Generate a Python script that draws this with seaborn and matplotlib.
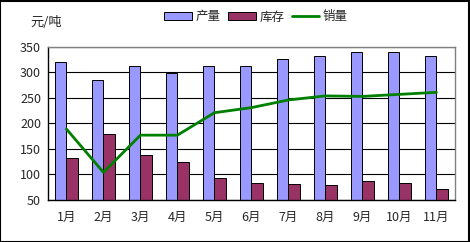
import matplotlib
matplotlib.use("Agg")
import matplotlib.pyplot as plt
import seaborn as sns
import pandas as pd
import numpy as np
from matplotlib.lines import Line2D
from matplotlib.patches import Patch

months = ["1月", "2月", "3月", "4月", "5月", "6月", "7月", "8月", "9月", "10月", "11月"]
production = [320, 285, 312, 299, 313, 312, 326, 333, 340, 341, 333]
inventory = [132, 180, 138, 124, 93, 84, 81, 79, 87, 84, 72]
sales = [189, 104, 177, 177, 221, 231, 246, 254, 253, 257, 261]
series_names = ["产量", "库存", "销量"]
yticks = [50, 100, 150, 200, 250, 300, 350]

sns.set_style("white")
plt.rcParams['font.family'] = ['Noto Sans CJK SC', 'DejaVu Sans']

df = pd.DataFrame({
    "month": months * 2,
    "value": production + inventory,
    "series": [series_names[0]] * len(months) + [series_names[1]] * len(months),
})

fig = plt.figure(figsize=(4.7, 2.42), dpi=100)
ax = fig.add_axes([0.102, 0.174, 0.866, 0.632])

sns.barplot(data=df, x="month", y="value", hue="series", order=months,
            hue_order=series_names[:2], palette=["#9999FF", "#993366"],
            width=0.6, edgecolor="black", linewidth=0.7, ax=ax, legend=False,
            saturation=1, err_kws={"linewidth": 0})

sns.lineplot(x=np.arange(len(months)), y=sales, color="#008000", linewidth=2,
             ax=ax, legend=False)

ax.set_ylim(50, 350)
ax.set_xlim(-0.5, len(months) - 0.5)
ax.set_yticks(yticks)
ax.set_yticklabels([str(t) for t in yticks], fontsize=9)
ax.set_xticks(np.arange(len(months)))
ax.set_xticklabels(months, fontsize=9)
ax.set_xlabel("")
ax.set_ylabel("")
ax.tick_params(axis="x", length=0, pad=8)
ax.tick_params(axis="y", length=3, pad=2, direction="out")
ax.set_xticks(np.arange(len(months) + 1) - 0.5, minor=True)
ax.tick_params(axis="x", which="minor", length=3, direction="in", color="black")
ax.yaxis.grid(True, color="black", linewidth=0.8)
ax.set_axisbelow(True)
for s in ax.spines.values():
    s.set_color("#808080")
    s.set_linewidth(1)
ax.spines["bottom"].set_color("black")
ax.spines["left"].set_color("black")

handles = [Patch(facecolor="#9999FF", edgecolor="black", linewidth=0.7),
           Patch(facecolor="#993366", edgecolor="black", linewidth=0.7),
           Line2D([0], [0], color="#008000", linewidth=2)]
fig.legend(handles, series_names, loc="center", bbox_to_anchor=(0.545, 0.93),
           ncol=3, frameon=False, fontsize=9, handlelength=2.2, handleheight=0.6,
           handletextpad=0.3, columnspacing=0.6)

fig.text(0.064, 0.905, "元/吨", fontsize=9.5, ha="left", va="center")

border = plt.Rectangle((0.001, 0.002), 0.997, 0.995, transform=fig.transFigure,
                       fill=False, edgecolor="black", linewidth=1.5)
fig.patches.append(border)

fig.savefig("out.png", dpi=100)
